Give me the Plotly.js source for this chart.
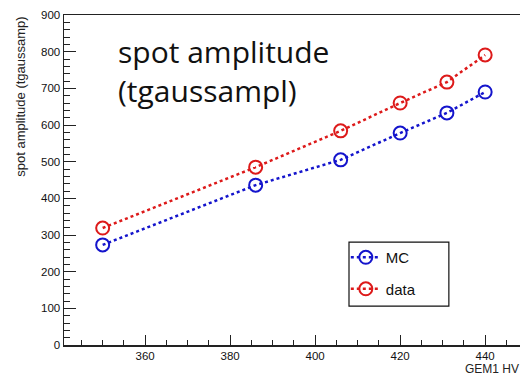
<!DOCTYPE html>
<html>
<head>
<meta charset="utf-8">
<script src="https://cdn.plot.ly/plotly-3.0.1.min.js"></script>
<style>html,body{margin:0;padding:0;background:#fff;}#chart{width:520px;height:376px;}</style>
</head>
<body>
<div id="chart"></div>
<script>
const hv = [350, 386, 406, 420, 431, 440];
const mcAmp = [273, 436, 505, 578, 633, 690];
const dataAmp = [319, 485, 584, 660, 717, 791];
const seriesNames = ["MC", "data"];
const yTicks = [0, 100, 200, 300, 400, 500, 600, 700, 800, 900];
const xTicks = [360, 380, 400, 420, 440];

const blue = "#1414cc";
const red = "#dd1a1a";

function trace(y, name, color, grp) {
  return {
    x: hv, y: y, name: name, legendgroup: grp, type: "scatter", mode: "lines+markers",
    line: {color: color, width: 2.5, dash: "3px,3px"},
    marker: {symbol: "circle-open", size: 13, color: color, line: {width: 2, color: color}}
  };
}

const traces = [trace(mcAmp, seriesNames[0], blue, "a"), trace(dataAmp, seriesNames[1], red, "b")];

const tickFont = {family: "Liberation Sans, Arial, sans-serif", size: 11.5, color: "#111"};

const layout = {
  width: 520, height: 376,
  margin: {l: 64, r: 0, t: 15, b: 31},
  paper_bgcolor: "#fff", plot_bgcolor: "#fff",
  showlegend: true,
  legend: {
    x: 0.618, y: 0.315, xanchor: "left", yanchor: "top",
    borderwidth: 0, bgcolor: "rgba(0,0,0,0)",
    font: {family: "Liberation Sans, Arial, sans-serif", size: 15, color: "#111"},
    itemwidth: 30, traceorder: "grouped", tracegroupgap: 9
  },
  shapes: [
    {type: "rect", xref: "paper", yref: "paper", x0: 0.625, x1: 0.844, y0: 0.118, y1: 0.312,
     line: {color: "#111", width: 1.2}, fillcolor: "#fff", layer: "above"}
  ],
  xaxis: {
    range: [340.9, 448.2], tickvals: xTicks, ticktext: xTicks.map(String),
    showgrid: false, zeroline: false, showline: true, linecolor: "#222", linewidth: 1.5, mirror: true,
    ticks: "inside", ticklen: 10, tickwidth: 1, tickcolor: "#222",
    minor: {dtick: 5, tick0: 340, ticks: "inside", ticklen: 5, tickcolor: "#222", tickwidth: 1, showgrid: false},
    tickfont: tickFont, fixedrange: true
  },
  yaxis: {
    range: [0, 900], tickvals: yTicks, ticktext: yTicks.map(String),
    showgrid: false, zeroline: false, showline: true, linecolor: "#222", linewidth: 1.5,
    ticks: "inside", ticklen: 12, tickwidth: 1, tickcolor: "#222",
    minor: {dtick: 20, tick0: 0, ticks: "inside", ticklen: 6, tickcolor: "#222", tickwidth: 1, showgrid: false},
    tickfont: tickFont, fixedrange: true
  },
  annotations: [
    {text: "spot amplitude<br>(tgaussampl)", xref: "paper", yref: "paper", x: 0.114, y: 0.829,
     xanchor: "left", yanchor: "middle", align: "left", showarrow: false,
     font: {family: "Open Sans, Lato, sans-serif", size: 30, color: "#111"}},
    {text: "spot amplitude (tgaussamp)", xref: "paper", yref: "paper", x: -0.097, y: 1.0,
     xanchor: "center", yanchor: "top", textangle: -90, showarrow: false,
     font: {family: "Liberation Sans, Arial, sans-serif", size: 13, color: "#222"}},
    {text: "GEM1 HV", xref: "paper", yref: "paper", x: 1.0, y: -0.096,
     xanchor: "right", yanchor: "bottom", showarrow: false, borderpad: 0,
     font: {family: "Liberation Sans, Arial, sans-serif", size: 12, color: "#222"}}
  ]
};

Plotly.newPlot("chart", traces, layout, {staticPlot: true, displayModeBar: false});
</script>
</body>
</html>
